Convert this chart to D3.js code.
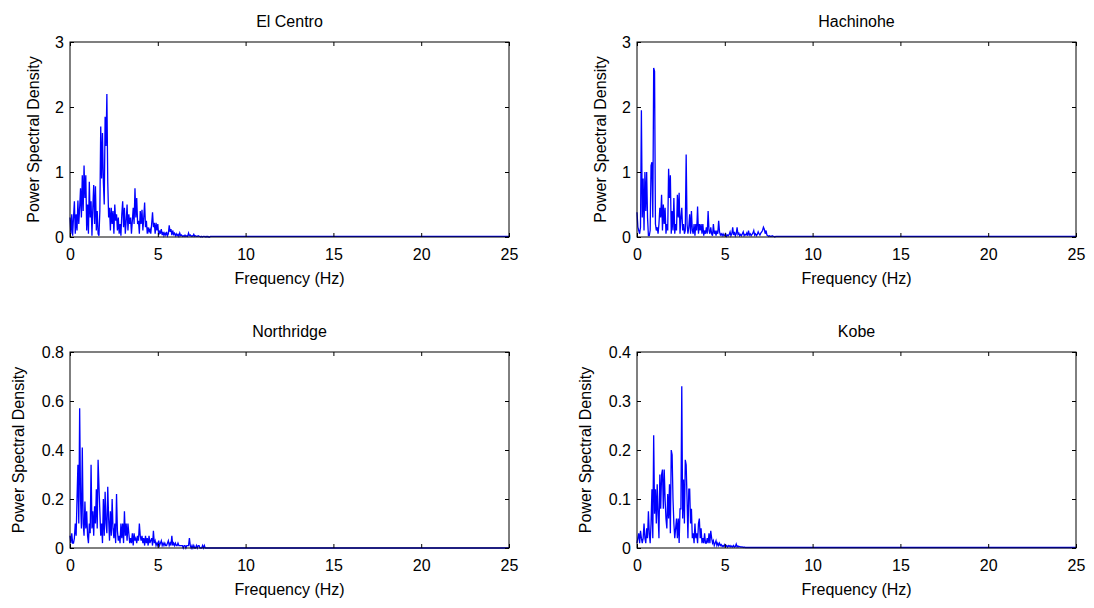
<!DOCTYPE html>
<html>
<head>
<meta charset="utf-8">
<script src="https://cdn.jsdelivr.net/npm/d3@7"></script>
<style>
  body { margin: 0; background: #fff; }
  svg { font-family: "Liberation Sans", Arial, sans-serif; }
  .axis text { font-size: 16px; fill: #000; }
  .axis line, .axis path { stroke: #000; }
</style>
</head>
<body>
<svg id="chart" width="1094" height="608"></svg>
<script>
// 周波数の刻み (Hz) と横軸
var df = 0.05;
var fMax = 25;
var xTicks = [0, 5, 10, 15, 20, 25];

// 各地震のスペクトル (0 Hz から df 刻み)
var elCentro = [
  0.30, 0.05, 0.35, 0.02, 0.30, 0.55, 0.05, 0.35, 0.10, 0.56,
  0.20, 0.45, 0.75, 0.30, 0.95, 0.40, 1.10, 0.60, 0.95, 0.10,
  0.50, 0.05, 0.85, 0.30, 0.55, 0.02, 0.45, 0.80, 0.20, 0.78,
  0.10, 0.40, 0.05, 0.02, 0.40, 1.70, 0.90, 1.60, 0.85, 0.50,
  1.85, 1.40, 2.20, 0.85, 0.30, 0.45, 0.10, 0.45, 0.20, 0.40,
  0.05, 0.50, 0.25, 0.35, 0.10, 0.30, 0.05, 0.20, 0.02, 0.35,
  0.55, 0.15, 0.45, 0.05, 0.25, 0.50, 0.10, 0.35, 0.20, 0.30,
  0.05, 0.25, 0.45, 0.20, 0.75, 0.30, 0.60, 0.20, 0.25, 0.05,
  0.40, 0.20, 0.42, 0.10, 0.30, 0.53, 0.15, 0.25, 0.05, 0.15,
  0.08, 0.12, 0.05, 0.20, 0.38, 0.15, 0.22, 0.05, 0.22, 0.10,
  0.20, 0.03, 0.10, 0.05, 0.12, 0.03, 0.08, 0.02, 0.06, 0.03,
  0.08, 0.02, 0.05, 0.18, 0.08, 0.12, 0.03, 0.10, 0.04, 0.06,
  0.02, 0.05, 0.02, 0.04, 0.01, 0.06, 0.02, 0.03, 0.01, 0.02,
  0.01, 0.03, 0.01, 0.02, 0.01, 0.06, 0.02, 0.03, 0.01, 0.02,
  0.01, 0.04, 0.01, 0.02, 0.01, 0.01, 0.02, 0.01, 0.01, 0.00,
  0.01, 0.00, 0.01, 0.01, 0.00, 0.01, 0.00, 0.01, 0.00, 0.00,
  0.01
];

var hachinohe = [
  0.38, 0.15, 0.10, 0.05, 0.15, 1.95, 0.30, 0.90, 0.10, 1.00,
  0.40, 1.00, 0.30, 0.02, 0.02, 0.10, 1.10, 1.15, 0.30, 2.60,
  2.55, 0.20, 0.10, 0.15, 0.05, 0.20, 0.45, 0.30, 0.65, 0.10,
  0.50, 0.20, 0.45, 0.05, 0.20, 0.10, 1.05, 0.60, 0.95, 0.05,
  0.40, 0.10, 0.60, 0.05, 0.20, 0.10, 0.65, 0.30, 0.68, 0.05,
  0.30, 0.45, 0.10, 0.20, 0.05, 0.10, 1.27, 0.20, 0.05, 0.15,
  0.35, 0.05, 0.40, 0.10, 0.05, 0.20, 0.02, 0.20, 0.10, 0.47,
  0.05, 0.20, 0.10, 0.20, 0.05, 0.20, 0.02, 0.10, 0.05, 0.15,
  0.05, 0.40, 0.10, 0.05, 0.15, 0.05, 0.02, 0.20, 0.05, 0.10,
  0.02, 0.10, 0.05, 0.25, 0.08, 0.03, 0.05, 0.02, 0.05, 0.02,
  0.03, 0.05, 0.01, 0.03, 0.02, 0.04, 0.08, 0.02, 0.05, 0.15,
  0.03, 0.08, 0.02, 0.05, 0.15, 0.04, 0.06, 0.02, 0.04, 0.02,
  0.05, 0.08, 0.02, 0.04, 0.03, 0.06, 0.02, 0.10, 0.03, 0.05,
  0.02, 0.04, 0.06, 0.10, 0.03, 0.05, 0.02, 0.04, 0.08, 0.05,
  0.03, 0.06, 0.08, 0.10, 0.15, 0.12, 0.05, 0.10, 0.03, 0.02,
  0.01, 0.02, 0.01, 0.01, 0.02, 0.01, 0.01, 0.00, 0.01, 0.01,
  0.01
];

var northridge = [
  0.05, 0.02, 0.06, 0.02, 0.02, 0.04, 0.10, 0.05, 0.20, 0.34,
  0.10, 0.57, 0.20, 0.08, 0.41, 0.10, 0.05, 0.19, 0.08, 0.15,
  0.05, 0.02, 0.10, 0.06, 0.34, 0.08, 0.15, 0.05, 0.17, 0.10,
  0.24, 0.08, 0.36, 0.25, 0.15, 0.05, 0.10, 0.02, 0.20, 0.05,
  0.23, 0.10, 0.06, 0.25, 0.12, 0.03, 0.15, 0.05, 0.20, 0.08,
  0.04, 0.10, 0.02, 0.22, 0.07, 0.03, 0.05, 0.02, 0.10, 0.04,
  0.10, 0.02, 0.15, 0.05, 0.10, 0.03, 0.10, 0.06, 0.02, 0.04,
  0.02, 0.06, 0.01, 0.06, 0.03, 0.04, 0.02, 0.05, 0.03, 0.10,
  0.05, 0.03, 0.05, 0.02, 0.04, 0.01, 0.05, 0.02, 0.04, 0.01,
  0.05, 0.02, 0.03, 0.04, 0.01, 0.07, 0.02, 0.03, 0.01, 0.02,
  0.01, 0.03, 0.01, 0.02, 0.03, 0.01, 0.02, 0.01, 0.02, 0.01,
  0.01, 0.02, 0.03, 0.01, 0.02, 0.01, 0.05, 0.01, 0.02, 0.01,
  0.02, 0.01, 0.01, 0.02, 0.01, 0.01, 0.01, 0.01, 0.01, 0.00,
  0.01, 0.01, 0.00, 0.01, 0.01, 0.01, 0.04, 0.01, 0.00, 0.01,
  0.00, 0.01, 0.00, 0.00, 0.01, 0.00, 0.01, 0.01, 0.00, 0.00,
  0.00, 0.01, 0.00, 0.01, 0.00, 0.00, 0.00, 0.00, 0.00, 0.00,
  0.00
];

var kobe = [
  0.010, 0.020, 0.030, 0.010, 0.035, 0.020, 0.010, 0.020, 0.050, 0.020,
  0.010, 0.040, 0.020, 0.075, 0.030, 0.010, 0.050, 0.120, 0.020, 0.230,
  0.070, 0.120, 0.050, 0.130, 0.070, 0.020, 0.150, 0.080, 0.150, 0.160,
  0.080, 0.160, 0.100, 0.060, 0.040, 0.110, 0.060, 0.130, 0.030, 0.200,
  0.190, 0.100, 0.050, 0.020, 0.040, 0.060, 0.020, 0.060, 0.010, 0.080,
  0.080, 0.330, 0.060, 0.140, 0.050, 0.180, 0.170, 0.100, 0.020, 0.120,
  0.120, 0.050, 0.080, 0.020, 0.030, 0.010, 0.050, 0.020, 0.030, 0.010,
  0.050, 0.060, 0.020, 0.040, 0.010, 0.020, 0.010, 0.030, 0.010, 0.010,
  0.020, 0.010, 0.030, 0.010, 0.035, 0.020, 0.010, 0.015, 0.005, 0.010,
  0.015, 0.005, 0.010, 0.005, 0.010, 0.005, 0.007, 0.003, 0.005, 0.003,
  0.007, 0.003, 0.005, 0.002, 0.005, 0.003, 0.005, 0.002, 0.004, 0.002,
  0.005, 0.002, 0.003, 0.008, 0.002, 0.004, 0.002, 0.003, 0.002, 0.002,
  0.002, 0.001, 0.002, 0.001, 0.001
];

var titles = ["El Centro", "Hachinohe", "Northridge", "Kobe"];
var series = [elCentro, hachinohe, northridge, kobe];
var yMaxes = [3, 3, 0.8, 0.4];
var yTickSets = [
  [0, 1, 2, 3],
  [0, 1, 2, 3],
  [0, 0.2, 0.4, 0.6, 0.8],
  [0, 0.1, 0.2, 0.3, 0.4]
];

// 各パネルの位置
var boxes = [
  {left: 70,  top: 42,  width: 439, height: 195},
  {left: 637, top: 42,  width: 439, height: 195},
  {left: 70,  top: 352, width: 439, height: 196},
  {left: 637, top: 352, width: 439, height: 196}
];

var svg = d3.select("#chart");

for (var k = 0; k < 4; k++) {
  drawPanel(k);
}

function drawPanel(k) {
  var b = boxes[k];
  var g = svg.append("g").attr("transform", "translate(" + b.left + "," + b.top + ")");

  var x = d3.scaleLinear().domain([0, fMax]).range([0, b.width]);
  var y = d3.scaleLinear().domain([0, yMaxes[k]]).range([b.height, 0]);

  var pts = series[k].map(function(v, i) { return [i * df, v]; });
  pts.push([fMax, series[k][series[k].length - 1]]);

  var line = d3.line()
    .x(function(d) { return x(d[0]); })
    .y(function(d) { return y(d[1]); });

  g.append("path")
    .attr("d", line(pts))
    .attr("fill", "none")
    .attr("stroke", "#0000ff")
    .attr("stroke-width", 1.3);

  var fmt = function(d) { return d === 0 ? "0" : d3.format("~g")(d); };

  // 下・左の目盛 (内向き)
  g.append("g").attr("class", "axis")
    .attr("transform", "translate(0," + b.height + ")")
    .call(d3.axisBottom(x).tickValues(xTicks).tickSizeInner(-4).tickSizeOuter(0).tickPadding(12).tickFormat(fmt))
    .call(function(s) { s.select(".domain").remove(); s.selectAll("text").attr("y", 12); });

  g.append("g").attr("class", "axis")
    .call(d3.axisLeft(y).tickValues(yTickSets[k]).tickSizeInner(-4).tickSizeOuter(0).tickPadding(6).tickFormat(fmt))
    .call(function(s) { s.select(".domain").remove(); s.selectAll("text").attr("x", -6); });

  // 上・右の目盛
  g.append("g").attr("class", "axis")
    .call(d3.axisTop(x).tickValues(xTicks).tickSizeInner(-4).tickSizeOuter(0).tickFormat(""))
    .call(function(s) { s.select(".domain").remove(); });

  g.append("g").attr("class", "axis")
    .attr("transform", "translate(" + b.width + ",0)")
    .call(d3.axisRight(y).tickValues(yTickSets[k]).tickSizeInner(-4).tickSizeOuter(0).tickFormat(""))
    .call(function(s) { s.select(".domain").remove(); });

  // 枠
  g.append("rect")
    .attr("width", b.width).attr("height", b.height)
    .attr("fill", "none").attr("stroke", "#000").attr("stroke-width", 1);

  g.append("text")
    .attr("x", b.width / 2).attr("y", -15)
    .attr("text-anchor", "middle")
    .style("font-size", "16px")
    .text(titles[k]);

  g.append("text")
    .attr("x", b.width / 2).attr("y", b.height + 47)
    .attr("text-anchor", "middle")
    .style("font-size", "16px")
    .text("Frequency (Hz)");

  var yLabX = (k >= 2) ? -46 : -31;
  g.append("text")
    .attr("transform", "translate(" + yLabX + "," + (b.height / 2) + ") rotate(-90)")
    .attr("text-anchor", "middle")
    .style("font-size", "16px")
    .text("Power Spectral Density");
}
</script>
</body>
</html>
